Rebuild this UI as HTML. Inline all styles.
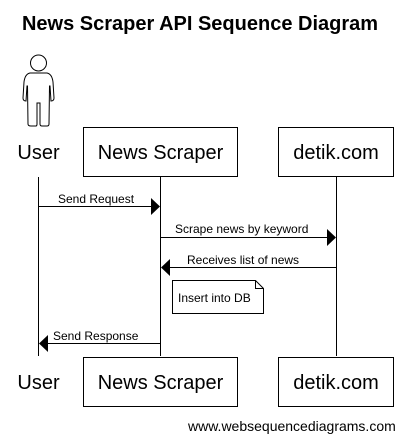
<!DOCTYPE html>
<html><head><style>body{margin:0;background:#fff}svg{display:block}</style></head><body>
<svg width="417" height="443" xmlns="http://www.w3.org/2000/svg" font-family="Liberation Sans, sans-serif">
<rect width="417" height="443" fill="#fff"/>
<text x="200" y="30" font-size="20" font-weight="bold" text-anchor="middle">News Scraper API Sequence Diagram</text>
<g fill="none" stroke="#000" stroke-width="1">
<circle cx="38.5" cy="63" r="8"/>
<path d="M30 73 Q25 74 24 82 L23 98 Q23 101 26 101 L27 86 L27.5 86 L28 124 Q28 126 31 126 L36 126 Q37 126 37 124 L37 103 L40 103 L40 124 Q40 126 42 126 L47 126 Q49 126 49 124 L49.5 86 L50 86 L51 101 Q54 101 54 98 L53 82 Q52 74 47 73 Z"/>
</g>
<g stroke="#000" stroke-width="1" fill="none">
<line x1="38.5" y1="177" x2="38.5" y2="356"/>
<line x1="160.5" y1="177" x2="160.5" y2="356"/>
<line x1="336.5" y1="177" x2="336.5" y2="356"/>
<rect x="83.5" y="127.5" width="154" height="49" fill="#fff"/>
<rect x="278.5" y="127.5" width="115" height="49" fill="#fff"/>
<rect x="83.5" y="357.5" width="154" height="49" fill="#fff"/>
<rect x="278.5" y="357.5" width="115" height="49" fill="#fff"/>
<line x1="38.5" y1="206.5" x2="152" y2="206.5"/>
<line x1="160.5" y1="237.5" x2="328" y2="237.5"/>
<line x1="336.5" y1="267.5" x2="169" y2="267.5"/>
<line x1="160.5" y1="343.5" x2="47" y2="343.5"/>
<path d="M172.5 280.5 H255.5 L263.5 288.5 V313.5 H172.5 Z M255.5 280.5 V288.5 H263.5" fill="#fff"/>
</g>
<g fill="#000">
<polygon points="160,206.5 151,198 151,215"/>
<polygon points="336,237.5 327,229 327,246"/>
<polygon points="161,267.5 170,259 170,276"/>
<polygon points="39,343.5 48,335 48,352"/>
</g>
<g font-size="20" text-anchor="middle">
<text x="38.5" y="159">User</text>
<text x="160.5" y="159">News Scraper</text>
<text x="336" y="159">detik.com</text>
<text x="38.5" y="389">User</text>
<text x="160.5" y="389">News Scraper</text>
<text x="336" y="389">detik.com</text>
</g>
<g font-size="12">
<text x="58" y="203">Send Request</text>
<text x="175" y="233">Scrape news by keyword</text>
<text x="187" y="264">Receives list of news</text>
<text x="178" y="302">Insert into DB</text>
<text x="53" y="340">Send Response</text>
<text x="188" y="431" font-size="14">www.websequencediagrams.com</text>
</g>
</svg>
</body></html>
